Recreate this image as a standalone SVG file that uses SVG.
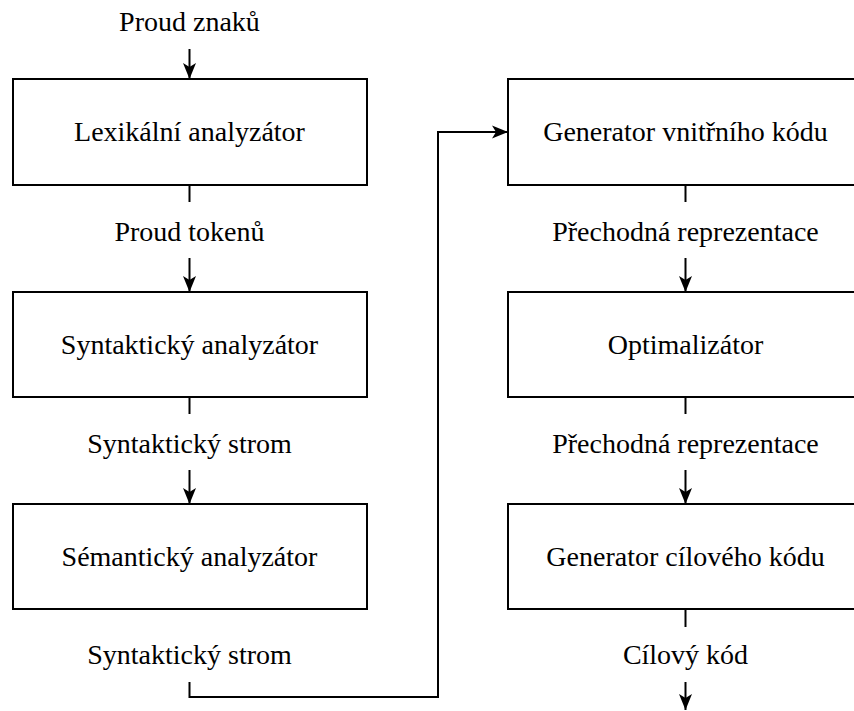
<svg xmlns="http://www.w3.org/2000/svg" width="854" height="711" viewBox="0 0 854 711">
  <style>
    .box { fill: #ffffff; stroke: #000000; stroke-width: 2; }
    .lbl { font-family: 'Liberation Serif', 'Times New Roman', serif; font-size: 28px; fill: #000000; text-anchor: middle; }
    .wire { fill: none; stroke: #000000; stroke-width: 2; }
    .arr { marker-end: url(#head); }
  </style>
  <defs>
    <marker id="head" markerUnits="userSpaceOnUse" markerWidth="17" markerHeight="13" refX="16" refY="6.5" orient="auto" overflow="visible">
      <path d="M0,0 L16,6.5 L0,13 L4,6.5 Z" fill="#000000"/>
    </marker>
  </defs>
  <rect width="854" height="711" fill="#ffffff"/>

  <!-- connectors -->
  <g id="connectors">
    <line class="wire arr" x1="189.5" y1="49" x2="189.5" y2="79"/>
    <line class="wire" x1="189.5" y1="185" x2="189.5" y2="202"/>
    <line class="wire arr" x1="189.5" y1="258" x2="189.5" y2="292"/>
    <line class="wire" x1="189.5" y1="397" x2="189.5" y2="414"/>
    <line class="wire arr" x1="189.5" y1="470" x2="189.5" y2="504"/>
    <polyline class="wire arr" points="189.5,682 189.5,697 438,697 438,132 508,132"/>
    <line class="wire" x1="685.5" y1="185" x2="685.5" y2="202"/>
    <line class="wire arr" x1="685.5" y1="258" x2="685.5" y2="292"/>
    <line class="wire" x1="685.5" y1="397" x2="685.5" y2="414"/>
    <line class="wire arr" x1="685.5" y1="470" x2="685.5" y2="504"/>
    <line class="wire" x1="685.5" y1="609" x2="685.5" y2="627"/>
    <line class="wire arr" x1="685.5" y1="682" x2="685.5" y2="710"/>
  </g>

  <!-- edge labels -->
  <g id="labels">
    <text class="lbl" x="189.5" y="31">Proud znaků</text>
    <text class="lbl" x="189.5" y="241">Proud tokenů</text>
    <text class="lbl" x="189.5" y="453">Syntaktický strom</text>
    <text class="lbl" x="189.5" y="664">Syntaktický strom</text>
    <text class="lbl" x="685.5" y="241">Přechodná reprezentace</text>
    <text class="lbl" x="685.5" y="453">Přechodná reprezentace</text>
    <text class="lbl" x="685.5" y="664">Cílový kód</text>
  </g>

  <!-- left column -->
  <g id="lexer">
    <rect class="box" x="13" y="79" width="354" height="106"/>
    <text class="lbl" x="189.5" y="141">Lexikální analyzátor</text>
  </g>
  <g id="parser">
    <rect class="box" x="13" y="292" width="354" height="105"/>
    <text class="lbl" x="189.5" y="353.5">Syntaktický analyzátor</text>
  </g>
  <g id="semantic">
    <rect class="box" x="13" y="504" width="354" height="105"/>
    <text class="lbl" x="189.5" y="565.5">Sémantický analyzátor</text>
  </g>

  <!-- right column -->
  <g id="irgen">
    <rect class="box" x="508" y="79" width="354" height="106"/>
    <text class="lbl" x="685.5" y="141">Generator vnitřního kódu</text>
  </g>
  <g id="optimizer">
    <rect class="box" x="508" y="292" width="354" height="105"/>
    <text class="lbl" x="685.5" y="353.5">Optimalizátor</text>
  </g>
  <g id="codegen">
    <rect class="box" x="508" y="504" width="354" height="105"/>
    <text class="lbl" x="685.5" y="565.5">Generator cílového kódu</text>
  </g>
</svg>
